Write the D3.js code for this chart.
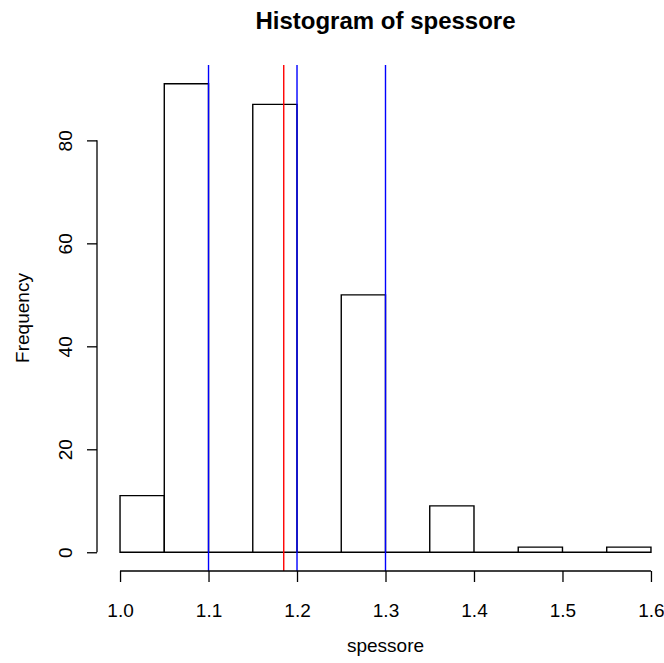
<!DOCTYPE html>
<html>
<head>
<meta charset="utf-8">
<script src="https://cdn.jsdelivr.net/npm/d3@7"></script>
<style>
  html, body { margin: 0; padding: 0; background: #fff; }
  svg { display: block; }
  text { font-family: "Liberation Sans", Arial, sans-serif; fill: #000; }
</style>
</head>
<body>
<script>
// Histogram bins of "spessore" (break edges and counts)
const binStarts = [1.00, 1.05, 1.10, 1.15, 1.20, 1.25, 1.30, 1.35, 1.40, 1.45, 1.50, 1.55];
const binWidth = 0.05;
const counts = [11, 91, 0, 87, 0, 50, 0, 9, 0, 1, 0, 1];

// Reference lines
const blueLines = [1.1, 1.2, 1.3];
const meanLine = 1.185;

// Axis ticks
const xTicks = [1.0, 1.1, 1.2, 1.3, 1.4, 1.5, 1.6];
const yTicks = [0, 20, 40, 60, 80];

const W = 664, H = 663;
const svg = d3.select("body").append("svg").attr("width", W).attr("height", H);

// Plot region with R-style 4% padding on the data range
const xMin = 1.0, xMax = 1.6, yMax = d3.max(counts);
const xPad = (xMax - xMin) * 0.04, yPad = yMax * 0.04;
const x = d3.scaleLinear().domain([xMin - xPad, xMax + xPad]).range([98.8, 672.2]);
const y = d3.scaleLinear().domain([-yPad, yMax + yPad]).range([571, 65]);

// Bars as closed outlines, so empty bins still show their baseline edge
svg.append("g").selectAll("path")
  .data(binStarts.map((s, i) => ({ s, c: counts[i] })))
  .join("path")
  .attr("d", d => {
    const x0 = x(d.s), x1 = x(d.s + binWidth), y0 = y(0), y1 = y(d.c);
    return `M${x0},${y0}H${x1}V${y1}H${x0}Z`;
  })
  .attr("fill", "none")
  .attr("stroke", "#000")
  .attr("stroke-width", 1.4);

// Vertical reference lines
svg.append("g").selectAll("line")
  .data(blueLines)
  .join("line")
  .attr("x1", d => x(d)).attr("x2", d => x(d))
  .attr("y1", y.range()[1]).attr("y2", y.range()[0])
  .attr("stroke", "#0000ff").attr("stroke-width", 1.4);

svg.append("line")
  .attr("x1", x(meanLine)).attr("x2", x(meanLine))
  .attr("y1", y.range()[1]).attr("y2", y.range()[0])
  .attr("stroke", "#ff0000").attr("stroke-width", 1.4);

// X axis
const xAxis = svg.append("g")
  .attr("transform", `translate(0,${y.range()[0]})`)
  .call(d3.axisBottom(x).tickValues(xTicks).tickFormat(d3.format(".1f")).tickSize(11).tickPadding(6));
xAxis.select(".domain").remove();
xAxis.append("line")
  .attr("x1", x(xTicks[0])).attr("x2", x(xTicks[xTicks.length - 1]))
  .attr("stroke", "#000").attr("stroke-width", 1.3);
xAxis.selectAll(".tick line").attr("stroke", "#000").attr("stroke-width", 1.3);
xAxis.selectAll(".tick text")
  .attr("font-size", 19).attr("fill", "#111")
  .attr("font-family", "Liberation Sans, Arial, sans-serif")
  .attr("dy", null).attr("y", 46);

// Y axis
const yAxisX = x.range()[0] - 1.8;
const yAxis = svg.append("g")
  .attr("transform", `translate(${yAxisX},0)`)
  .call(d3.axisLeft(y).tickValues(yTicks).tickSize(10));
yAxis.select(".domain").remove();
yAxis.append("line")
  .attr("y1", y(yTicks[0])).attr("y2", y(yTicks[yTicks.length - 1]))
  .attr("stroke", "#000").attr("stroke-width", 1.3);
yAxis.selectAll(".tick line").attr("stroke", "#000").attr("stroke-width", 1.3);
yAxis.selectAll(".tick text")
  .attr("font-size", 19).attr("fill", "#111")
  .attr("font-family", "Liberation Sans, Arial, sans-serif")
  .attr("x", null).attr("dy", null)
  .attr("text-anchor", "middle")
  .attr("transform", "translate(-25,0) rotate(-90)");

// Titles
const cx = (x.range()[0] + x.range()[1]) / 2;
svg.append("text")
  .attr("x", cx).attr("y", 29)
  .attr("text-anchor", "middle")
  .attr("font-size", 24).attr("font-weight", "bold")
  .text("Histogram of spessore");

svg.append("text")
  .attr("x", cx).attr("y", 652)
  .attr("text-anchor", "middle")
  .attr("font-size", 19).attr("fill", "#111")
  .text("spessore");

svg.append("text")
  .attr("transform", `translate(29,${(y.range()[0] + y.range()[1]) / 2}) rotate(-90)`)
  .attr("text-anchor", "middle")
  .attr("font-size", 19).attr("fill", "#111")
  .text("Frequency");
</script>
</body>
</html>
